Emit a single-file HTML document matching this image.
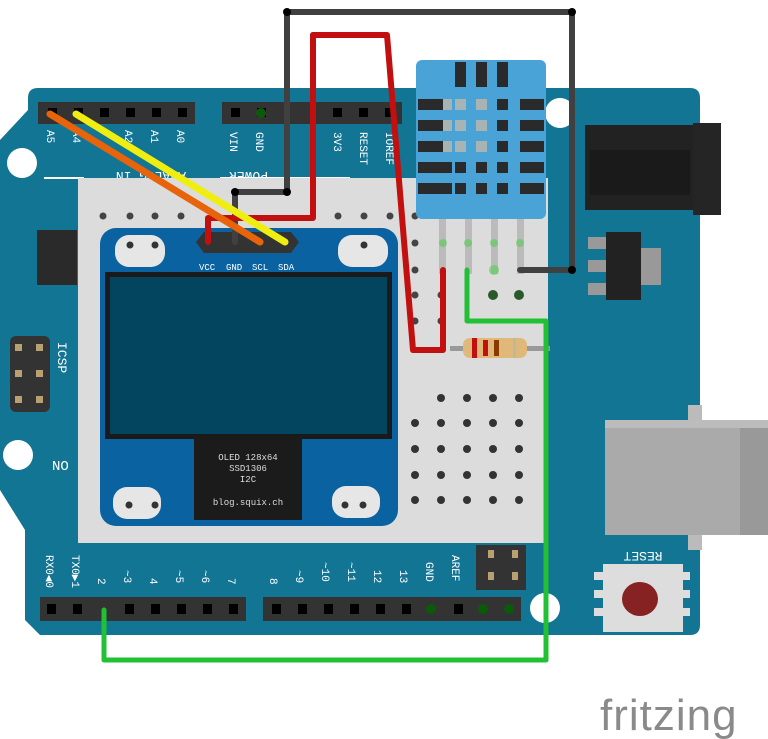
<!DOCTYPE html>
<html><head><style>body{margin:0;background:#fff}svg{display:block}</style></head><body>
<svg width="768" height="739" viewBox="0 0 768 739" xmlns="http://www.w3.org/2000/svg" font-family="Liberation Mono, monospace">
<!-- board -->
<path d="M38,88 L690,88 Q700,88 700,98 L700,625 Q700,635 690,635 L40,635 L25,620 L25,530 L0,490 L0,140 L28,110 L28,98 Q28,88 38,88Z" fill="#137594"/>
<circle cx="22" cy="163" r="15" fill="#fff"/>
<circle cx="18" cy="455" r="15" fill="#fff"/>
<circle cx="545" cy="608" r="15" fill="#fff"/>
<circle cx="560" cy="113" r="15" fill="#fff"/>
<!-- DC jack -->
<rect x="585" y="125" width="120" height="85" fill="#222"/>
<rect x="693" y="123" width="28" height="92" fill="#252525"/>
<rect x="590" y="150" width="100" height="45" fill="#1a1a1a"/>
<!-- regulator -->
<rect x="588" y="237" width="18" height="12" fill="#999"/><rect x="588" y="260" width="18" height="12" fill="#999"/><rect x="588" y="283" width="18" height="12" fill="#999"/>
<rect x="606" y="232" width="35" height="68" fill="#222"/><rect x="641" y="248" width="20" height="37" fill="#999"/>
<!-- USB -->
<rect x="688" y="405" width="14" height="145" fill="#bbb"/>
<rect x="605" y="420" width="163" height="115" fill="#aaa"/>
<rect x="605" y="420" width="163" height="8" fill="#bcbcbc"/>
<rect x="740" y="428" width="28" height="107" fill="#999"/>
<!-- reset -->
<rect x="594" y="572" width="10" height="8" fill="#ddd"/><rect x="594" y="590" width="10" height="8" fill="#ddd"/><rect x="594" y="608" width="10" height="8" fill="#ddd"/>
<rect x="680" y="572" width="10" height="8" fill="#ddd"/><rect x="680" y="590" width="10" height="8" fill="#ddd"/><rect x="680" y="608" width="10" height="8" fill="#ddd"/>
<rect x="603" y="564" width="80" height="68" fill="#ddd"/>
<ellipse cx="640" cy="599" rx="18" ry="17" fill="#862222"/>
<text x="643" y="560" font-size="13" fill="#fff" text-anchor="middle" transform="rotate(180 643 556)">RESET</text>
<!-- ICSP left -->
<rect x="10" y="336" width="40" height="76" rx="6" fill="#333"/>
<g fill="#b8a070"><rect x="15" y="344" width="7" height="7"/><rect x="36" y="344" width="7" height="7"/><rect x="15" y="370" width="7" height="7"/><rect x="36" y="370" width="7" height="7"/><rect x="15" y="396" width="7" height="7"/><rect x="36" y="396" width="7" height="7"/></g>
<text transform="translate(58,342) rotate(90)" font-size="13" fill="#fff">ICSP</text>
<rect x="37" y="230" width="40" height="55" fill="#2a2a2a"/>
<!-- top headers -->
<rect x="38" y="102" width="157" height="22" fill="#333"/>
<rect x="222" y="102" width="180" height="22" fill="#333"/>
<g fill="#000">
<rect x="48" y="108" width="9" height="9"/><rect x="74" y="108" width="9" height="9"/><rect x="100" y="108" width="9" height="9"/><rect x="126" y="108" width="9" height="9"/><rect x="152" y="108" width="9" height="9"/><rect x="178" y="108" width="9" height="9"/>
<rect x="231" y="108" width="9" height="9"/><rect x="257" y="108" width="9" height="9"/><rect x="333" y="108" width="9" height="9"/><rect x="359" y="108" width="9" height="9"/><rect x="385" y="108" width="9" height="9"/>
</g>
<circle cx="261" cy="113" r="5" fill="#0a5a0a"/>
<g fill="#fff" font-size="11">
<text transform="translate(47,130) rotate(90)">A5</text><text transform="translate(73,130) rotate(90)">A4</text><text transform="translate(125,130) rotate(90)">A2</text><text transform="translate(151,130) rotate(90)">A1</text><text transform="translate(177,130) rotate(90)">A0</text>
<text transform="translate(230,132) rotate(90)">VIN</text><text transform="translate(256,132) rotate(90)">GND</text><text transform="translate(334,132) rotate(90)">3V3</text><text transform="translate(360,132) rotate(90)">RESET</text><text transform="translate(386,132) rotate(90)">IOREF</text>
<text transform="translate(186,172) rotate(180)" font-size="13">ANALOG IN</text>
<text transform="translate(268,172) rotate(180)" font-size="13">POWER</text>
<text x="52" y="470" font-size="14">NO</text>
</g>
<rect x="44" y="177" width="40" height="2" fill="#fff"/><rect x="220" y="177" width="130" height="2" fill="#fff"/>
<!-- bottom headers -->
<rect x="40" y="597" width="206" height="24" fill="#333"/>
<rect x="263" y="597" width="258" height="24" fill="#333"/>
<g fill="#000">
<rect x="47" y="604" width="9" height="10"/><rect x="73" y="604" width="9" height="10"/><rect x="125" y="604" width="9" height="10"/><rect x="151" y="604" width="9" height="10"/><rect x="177" y="604" width="9" height="10"/><rect x="203" y="604" width="9" height="10"/><rect x="229" y="604" width="9" height="10"/>
<rect x="272" y="604" width="9" height="10"/><rect x="298" y="604" width="9" height="10"/><rect x="324" y="604" width="9" height="10"/><rect x="350" y="604" width="9" height="10"/><rect x="376" y="604" width="9" height="10"/><rect x="402" y="604" width="9" height="10"/><rect x="454" y="604" width="9" height="10"/>
</g>
<circle cx="431" cy="609" r="5" fill="#0a5a0a"/><circle cx="483" cy="609" r="5" fill="#0a5a0a"/><circle cx="509" cy="609" r="5" fill="#0a5a0a"/>
<rect x="476" y="545" width="50" height="45" fill="#333"/>
<g fill="#b8a070"><rect x="488" y="550" width="6" height="8"/><rect x="512" y="550" width="6" height="8"/><rect x="488" y="572" width="6" height="8"/><rect x="512" y="572" width="6" height="8"/></g>
<g fill="#fff" font-size="11">
<text transform="translate(46,555) rotate(90)">RX0◀0</text><text transform="translate(72,555) rotate(90)">TX0▶1</text>
<text transform="translate(98,578) rotate(90)">2</text><text transform="translate(124,570) rotate(90)">~3</text><text transform="translate(150,578) rotate(90)">4</text><text transform="translate(176,570) rotate(90)">~5</text><text transform="translate(202,570) rotate(90)">~6</text><text transform="translate(228,578) rotate(90)">7</text>
<text transform="translate(270,578) rotate(90)">8</text><text transform="translate(296,570) rotate(90)">~9</text><text transform="translate(322,562) rotate(90)">~10</text><text transform="translate(348,562) rotate(90)">~11</text><text transform="translate(374,570) rotate(90)">12</text><text transform="translate(400,570) rotate(90)">13</text><text transform="translate(426,562) rotate(90)">GND</text><text transform="translate(452,555) rotate(90)">AREF</text>
</g>
<!-- breadboard shield -->
<rect x="78" y="178" width="470" height="365" fill="#dcdcdc"/>
<g fill="#444">
<circle cx="103" cy="216" r="3.5"/><circle cx="130" cy="216" r="3.5"/><circle cx="155" cy="216" r="3.5"/><circle cx="181" cy="216" r="3.5"/><circle cx="338" cy="216" r="3.5"/><circle cx="364" cy="216" r="3.5"/><circle cx="390" cy="216" r="3.5"/><circle cx="415" cy="216" r="3.5"/>
<circle cx="415" cy="243" r="3.5"/><circle cx="415" cy="270" r="3.5"/><circle cx="415" cy="295" r="3.5"/><circle cx="415" cy="321" r="3.5"/><circle cx="441" cy="295" r="3.5"/><circle cx="441" cy="321" r="3.5"/>
</g>
<g fill="#333">
<circle cx="441" cy="398" r="4"/><circle cx="467" cy="398" r="4"/><circle cx="493" cy="398" r="4"/><circle cx="519" cy="398" r="4"/>
<circle cx="415" cy="423" r="4"/><circle cx="441" cy="423" r="4"/><circle cx="467" cy="423" r="4"/><circle cx="493" cy="423" r="4"/><circle cx="519" cy="423" r="4"/>
<circle cx="415" cy="449" r="4"/><circle cx="441" cy="449" r="4"/><circle cx="467" cy="449" r="4"/><circle cx="493" cy="449" r="4"/><circle cx="519" cy="449" r="4"/>
<circle cx="415" cy="475" r="4"/><circle cx="441" cy="475" r="4"/><circle cx="467" cy="475" r="4"/><circle cx="493" cy="475" r="4"/><circle cx="519" cy="475" r="4"/>
<circle cx="415" cy="500" r="4"/><circle cx="441" cy="500" r="4"/><circle cx="467" cy="500" r="4"/><circle cx="493" cy="500" r="4"/><circle cx="519" cy="500" r="4"/>
<circle cx="493" cy="295" r="5" fill="#2a5a2a"/><circle cx="519" cy="295" r="5" fill="#2a5a2a"/>
</g>
<!-- OLED -->
<rect x="100" y="228" width="298" height="298" rx="16" fill="#0a63a0"/>
<rect x="115" y="235" width="50" height="32" rx="14" fill="#e6e6e6"/><circle cx="130" cy="245" r="3.5" fill="#333"/><circle cx="155" cy="245" r="3.5" fill="#333"/>
<rect x="338" y="235" width="50" height="32" rx="14" fill="#e6e6e6"/><circle cx="364" cy="245" r="3.5" fill="#333"/>
<rect x="113" y="487" width="48" height="32" rx="14" fill="#e6e6e6"/><circle cx="129" cy="505" r="3.5" fill="#333"/><circle cx="155" cy="505" r="3.5" fill="#333"/>
<rect x="332" y="486" width="48" height="32" rx="14" fill="#e6e6e6"/><circle cx="345" cy="505" r="3.5" fill="#333"/><circle cx="363" cy="505" r="3.5" fill="#333"/>
<path d="M196,242 L204,232 L291,232 L299,242 L291,253 L204,253 L196,242Z" fill="#333"/>
<g fill="#fff" font-size="9"><text x="199" y="270">VCC</text><text x="226" y="270">GND</text><text x="252" y="270">SCL</text><text x="278" y="270">SDA</text></g>
<rect x="105" y="272" width="287" height="167" fill="#1a1a1a"/>
<rect x="110" y="277" width="277" height="157" fill="#03445f"/>
<rect x="194" y="436" width="108" height="84" fill="#1b1b1b"/>
<g fill="#ddd" font-size="9" text-anchor="middle"><text x="248" y="460">OLED 128x64</text><text x="248" y="471">SSD1306</text><text x="248" y="482">I2C</text><text x="248" y="505">blog.squix.ch</text></g>
<!-- DHT -->
<g fill="#bbb"><rect x="439" y="219" width="7" height="55"/><rect x="465" y="219" width="7" height="55"/><rect x="491" y="219" width="7" height="55"/><rect x="517" y="219" width="7" height="55"/></g>
<g fill="#5c5" opacity="0.6"><circle cx="443" cy="243" r="4"/><circle cx="468" cy="243" r="4"/><circle cx="494" cy="243" r="4"/><circle cx="520" cy="243" r="4"/><circle cx="494" cy="270" r="5"/></g>
<rect x="416" y="60" width="130" height="159" rx="6" fill="#4aa3d6"/>
<g fill="#2a2a2a">
<rect x="455" y="62" width="11" height="25"/><rect x="476" y="62" width="11" height="25"/><rect x="497" y="62" width="11" height="25"/>
<rect x="418" y="99" width="34" height="11"/><rect x="520" y="99" width="24" height="11"/>
<rect x="418" y="120" width="34" height="11"/><rect x="520" y="120" width="24" height="11"/>
<rect x="418" y="141" width="34" height="11"/><rect x="520" y="141" width="24" height="11"/>
<rect x="418" y="162" width="34" height="11"/><rect x="520" y="162" width="24" height="11"/>
<rect x="418" y="183" width="34" height="11"/><rect x="520" y="183" width="24" height="11"/>
<rect x="455" y="183" width="11" height="11"/><rect x="476" y="183" width="11" height="11"/><rect x="497" y="183" width="11" height="11"/>
<rect x="497" y="99" width="11" height="11"/><rect x="497" y="120" width="11" height="11"/><rect x="497" y="141" width="11" height="11"/><rect x="497" y="162" width="11" height="11"/>
<rect x="455" y="162" width="11" height="11"/><rect x="476" y="162" width="11" height="11"/>
</g>
<g fill="#a8b4b4"><rect x="455" y="99" width="11" height="11"/><rect x="476" y="99" width="11" height="11"/><rect x="455" y="120" width="11" height="11"/><rect x="476" y="120" width="11" height="11"/><rect x="455" y="141" width="11" height="11"/><rect x="476" y="141" width="11" height="11"/><rect x="443" y="99" width="9" height="11"/><rect x="443" y="120" width="9" height="11"/><rect x="443" y="141" width="9" height="11"/></g>
<!-- resistor -->
<rect x="450" y="346" width="100" height="5" fill="#999"/>
<rect x="463" y="338" width="64" height="20" rx="7" fill="#e0b97a"/>
<rect x="472" y="338" width="5" height="20" fill="#c01010"/><rect x="483" y="340" width="5" height="16" fill="#c01010"/><rect x="494" y="340" width="5" height="16" fill="#8a3a00"/><rect x="513" y="338" width="3" height="20" fill="#bb9"/>
<!-- wires -->
<g fill="none" stroke-linejoin="round" stroke-linecap="round">
<polyline points="287,12 572,12 572,270 520,270" stroke="#404040" stroke-width="6"/>
<polyline points="287,12 287,192 235,192 235,242" stroke="#404040" stroke-width="6"/>
<polyline points="313,35 387,35 413,350 443,350 443,270" stroke="#c21010" stroke-width="6"/>
<polyline points="313,35 313,218 208,218 208,242" stroke="#c21010" stroke-width="6"/>
<line x1="50" y1="114" x2="260" y2="242" stroke="#e8640a" stroke-width="7"/>
<line x1="76" y1="114" x2="285" y2="242" stroke="#f0ee10" stroke-width="7"/>
<polyline points="467,270 467,321 546,321 546,660 104,660 104,610" stroke="#22c035" stroke-width="5"/>
</g>
<g fill="#000"><circle cx="287" cy="12" r="4"/><circle cx="572" cy="12" r="4"/><circle cx="572" cy="270" r="4"/><circle cx="287" cy="192" r="4"/><circle cx="235" cy="192" r="4"/></g>
<!-- logo -->
<text x="600" y="730" font-family="Liberation Sans, sans-serif" font-size="44" fill="#8a8a8a" letter-spacing="1">fritzing</text>
</svg>
</body></html>
